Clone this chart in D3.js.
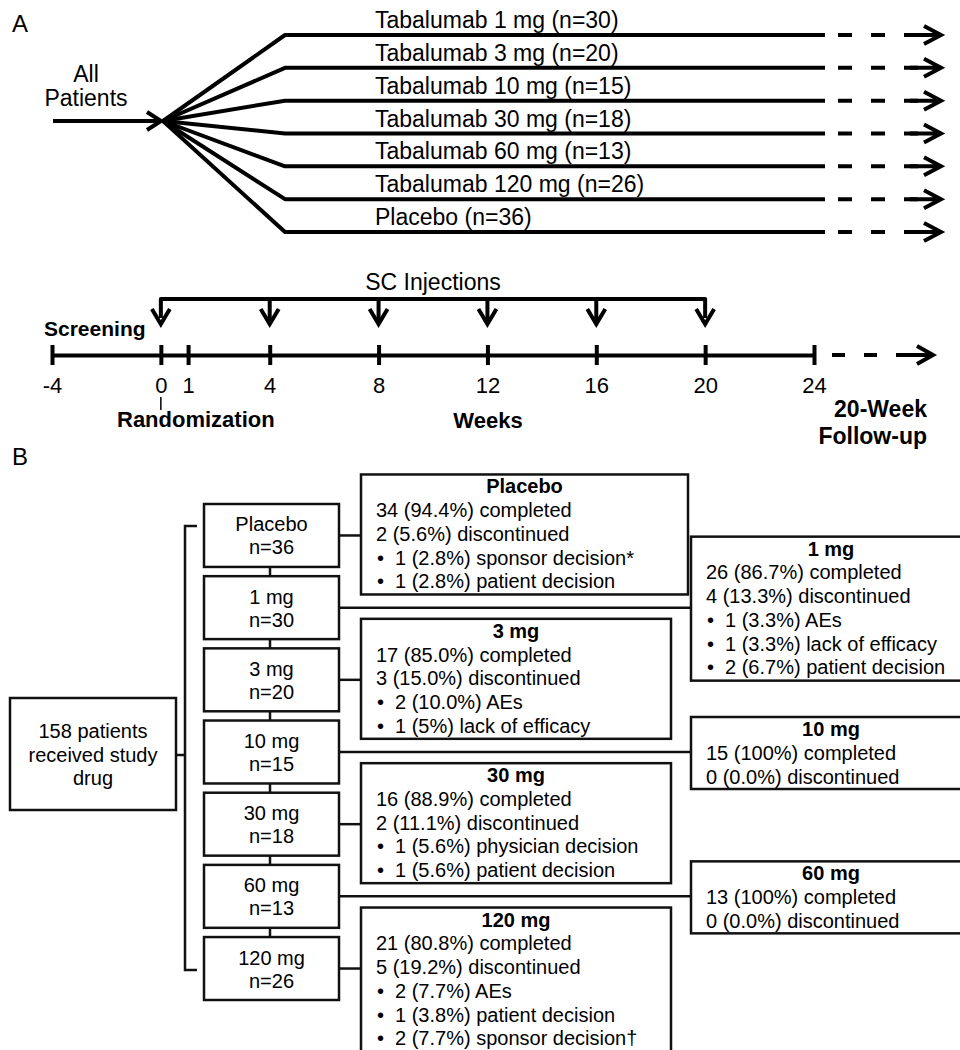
<!DOCTYPE html>
<html>
<head>
<meta charset="utf-8">
<style>
body { margin: 0; background: #fff; }
svg { display: block; font-family: "Liberation Sans", Arial, sans-serif; }
</style>
</head>
<body>
<script src="https://cdn.jsdelivr.net/npm/d3@7/dist/d3.min.js"></script>
<script>
// ---- data ----
var armLabels = ["Tabalumab 1 mg (n=30)", "Tabalumab 3 mg (n=20)", "Tabalumab 10 mg (n=15)",
    "Tabalumab 30 mg (n=18)", "Tabalumab 60 mg (n=13)", "Tabalumab 120 mg (n=26)", "Placebo (n=36)"];
var weekTicks = [-4, 0, 1, 4, 8, 12, 16, 20, 24];
var injectionWeeks = [0, 4, 8, 12, 16, 20];

var doses = ["Placebo", "1 mg", "3 mg", "10 mg", "30 mg", "60 mg", "120 mg"];
var doseN = [36, 30, 20, 15, 18, 13, 26];
var completedN = [34, 26, 17, 15, 16, 13, 21];
var completedPct = ["94.4%", "86.7%", "85.0%", "100%", "88.9%", "100%", "80.8%"];
var discN = [2, 4, 3, 0, 2, 0, 5];
var discPct = ["5.6%", "13.3%", "15.0%", "0.0%", "11.1%", "0.0%", "19.2%"];
var reasons = [
    ["1 (2.8%) sponsor decision*", "1 (2.8%) patient decision"],
    ["1 (3.3%) AEs", "1 (3.3%) lack of efficacy", "2 (6.7%) patient decision"],
    ["2 (10.0%) AEs", "1 (5%) lack of efficacy"],
    [],
    ["1 (5.6%) physician decision", "1 (5.6%) patient decision"],
    [],
    ["2 (7.7%) AEs", "1 (3.8%) patient decision", "2 (7.7%) sponsor decision\u2020"]
];
var detailSide = ["left", "right", "left", "right", "left", "right", "left"];
var totalLabel = ["158 patients", "received study", "drug"];

var w = 960, h = 1050;
var svg = d3.select("body").append("svg")
    .attr("width", w)
    .attr("height", h);

// ================= panel A =================
svg.append("text").attr("x", 12).attr("y", 32).attr("font-size", 24).text("A");

var armY = d3.scalePoint().domain(armLabels).range([35, 232]);
var fanX = 163, fanY = 121, bendX = 285, solidEnd = 825;

var gArms = svg.append("g")
    .attr("fill", "none")
    .attr("stroke", "#000")
    .attr("stroke-width", 4);

// incoming arrow
gArms.append("line").attr("x1", 53).attr("x2", 160).attr("y1", fanY).attr("y2", fanY);
gArms.append("path").attr("d", "M147," + (fanY - 9) + "L161," + fanY + "L147," + (fanY + 9));

gArms.selectAll(".arm")
    .data(armLabels)
  .enter().append("path")
    .attr("class", "arm")
    .attr("stroke-linejoin", "round")
    .attr("d", function(d) {
        return d3.line()([[fanX, fanY], [bendX, armY(d)], [solidEnd, armY(d)]]);
    });

gArms.selectAll(".dash")
    .data(armLabels)
  .enter().append("line")
    .attr("class", "dash")
    .attr("x1", 838).attr("x2", 934)
    .attr("y1", armY).attr("y2", armY)
    .attr("stroke-dasharray", "14 19");

gArms.selectAll(".head")
    .data(armLabels)
  .enter().append("path")
    .attr("class", "head")
    .attr("d", function(d) {
        var y = armY(d);
        return "M924," + (y - 9) + "L941," + y + "L924," + (y + 9) + "M910," + y + "H939";
    });

svg.selectAll(".armLabel")
    .data(armLabels)
  .enter().append("text")
    .attr("class", "armLabel")
    .attr("x", 375)
    .attr("y", function(d) { return armY(d) - 7; })
    .attr("font-size", 23)
    .text(function(d) { return d; });

svg.append("text").attr("x", 86).attr("y", 82).attr("text-anchor", "middle").attr("font-size", 23).text("All");
svg.append("text").attr("x", 86).attr("y", 106).attr("text-anchor", "middle").attr("font-size", 23).text("Patients");

// ---- timeline ----
var wx = d3.scaleLinear().domain([-4, 24]).range([52, 814]);
var axisY = 355;

var axisG = svg.append("g")
    .attr("transform", "translate(0," + axisY + ")")
    .call(d3.axisBottom(wx).tickValues(weekTicks).tickSize(10).tickSizeOuter(0).tickFormat(String));
axisG.attr("font-family", null).attr("font-size", 22);
axisG.select(".domain").attr("stroke", "#000").attr("stroke-width", 4);
axisG.selectAll(".tick line").attr("y1", -10).attr("y2", 10).attr("stroke", "#000").attr("stroke-width", 4);
axisG.selectAll(".tick text").attr("y", 38).attr("dy", null).attr("fill", "#000");

var gInj = svg.append("g")
    .attr("fill", "none")
    .attr("stroke", "#000")
    .attr("stroke-width", 4);

gInj.append("path")
    .attr("stroke-linejoin", "round")
    .attr("d", "M" + wx(0) + ",318V299H" + wx(20) + "V318");
gInj.selectAll(".injLine")
    .data(injectionWeeks.slice(1, -1))
  .enter().append("line")
    .attr("x1", wx).attr("x2", wx)
    .attr("y1", 299).attr("y2", 320);
gInj.selectAll(".injHead")
    .data(injectionWeeks)
  .enter().append("path")
    .attr("d", function(d) {
        var x = wx(d);
        return "M" + (x - 9) + ",309L" + x + ",324L" + (x + 9) + ",309";
    });

// follow-up dashes
gInj.append("line")
    .attr("x1", wx(24) + 18).attr("x2", 928)
    .attr("y1", axisY).attr("y2", axisY)
    .attr("stroke-dasharray", "13 19");
gInj.append("path").attr("d", "M917," + (axisY - 9) + "L933," + axisY + "L917," + (axisY + 9) + "M905," + axisY + "H931");

svg.append("line")
    .attr("x1", wx(0)).attr("x2", wx(0))
    .attr("y1", 397).attr("y2", 410)
    .attr("stroke", "#000").attr("stroke-width", 1.5);

svg.append("text").attr("x", 433).attr("y", 290).attr("text-anchor", "middle").attr("font-size", 23).text("SC Injections");

var bold = svg.append("g").attr("font-weight", "bold");
bold.append("text").attr("x", 44).attr("y", 336).attr("font-size", 21).text("Screening");
bold.append("text").attr("x", 117).attr("y", 427).attr("font-size", 22).text("Randomization");
bold.append("text").attr("x", 488).attr("y", 428).attr("text-anchor", "middle").attr("font-size", 22).text("Weeks");
bold.append("text").attr("x", 927).attr("y", 417).attr("text-anchor", "end").attr("font-size", 23).text("20-Week");
bold.append("text").attr("x", 927).attr("y", 444).attr("text-anchor", "end").attr("font-size", 23).text("Follow-up");

// ================= panel B =================
svg.append("text").attr("x", 12).attr("y", 465).attr("font-size", 24).text("B");

var gB = svg.append("g").attr("font-size", 20);
var lineStyle = function(sel) {
    return sel.attr("fill", "none").attr("stroke", "#111").attr("stroke-width", 2.5);
};

var band = d3.scaleBand().domain(doses).range([504, 1000]).paddingInner(0.128);
var boxX = 204, boxW = 135;
var mid = function(d) { return band(d) + band.bandwidth() / 2; };
var rowH = 23.75;

// total box + bracket
gB.append("rect").attr("x", 10).attr("y", 698).attr("width", 166).attr("height", 112).call(lineStyle);
gB.selectAll(".total")
    .data(totalLabel)
  .enter().append("text")
    .attr("x", 93)
    .attr("y", function(d, i) { return 738 + i * 23.5; })
    .attr("text-anchor", "middle")
    .text(function(d) { return d; });
gB.append("path")
    .attr("d", "M176,755H185M197,526H185V970H197")
    .call(lineStyle);

// dose boxes
gB.selectAll(".doseBox")
    .data(doses)
  .enter().append("rect")
    .attr("class", "doseBox")
    .attr("x", boxX)
    .attr("y", function(d) { return band(d); })
    .attr("width", boxW)
    .attr("height", band.bandwidth())
    .call(lineStyle);

gB.selectAll(".doseLink")
    .data(doses.slice(1))
  .enter().append("line")
    .attr("x1", 270).attr("x2", 270)
    .attr("y1", function(d, i) { return band(doses[i]) + band.bandwidth(); })
    .attr("y2", function(d) { return band(d); })
    .call(lineStyle);

doses.forEach(function(d, i) {
    var c = mid(d);
    gB.append("text").attr("x", boxX + boxW / 2).attr("y", c - 4).attr("text-anchor", "middle").text(d);
    gB.append("text").attr("x", boxX + boxW / 2).attr("y", c + 19).attr("text-anchor", "middle").text("n=" + doseN[i]);
});

// detail boxes
doses.forEach(function(d, i) {
    var c = mid(d);
    var rows = 3 + reasons[i].length;
    var bh = rows * 24;
    var left = detailSide[i] === "left";
    var bx = left ? 361 : 691;
    var bw = left ? (d === "Placebo" ? 327 : 310) : 280;
    var by = left ? c - 61 : c - bh / 2 + 1;

    gB.append("line").attr("x1", boxX + boxW).attr("x2", bx).attr("y1", c).attr("y2", c).call(lineStyle);
    gB.append("rect").attr("x", bx).attr("y", by).attr("width", bw).attr("height", bh).call(lineStyle);

    gB.append("text")
        .attr("x", bx + bw / 2)
        .attr("y", by + 19)
        .attr("text-anchor", "middle")
        .attr("font-weight", "bold")
        .text(d);

    var tx = bx + 15;
    gB.append("text").attr("x", tx).attr("y", by + 19 + rowH).text(completedN[i] + " (" + completedPct[i] + ") completed");
    gB.append("text").attr("x", tx).attr("y", by + 19 + 2 * rowH).text(discN[i] + " (" + discPct[i] + ") discontinued");

    reasons[i].forEach(function(r, j) {
        var y = by + 19 + (3 + j) * rowH;
        gB.append("text").attr("x", tx + 1).attr("y", y).text("\u2022");
        gB.append("text").attr("x", tx + 19).attr("y", y).text(r);
    });
});
</script>
</body>
</html>
